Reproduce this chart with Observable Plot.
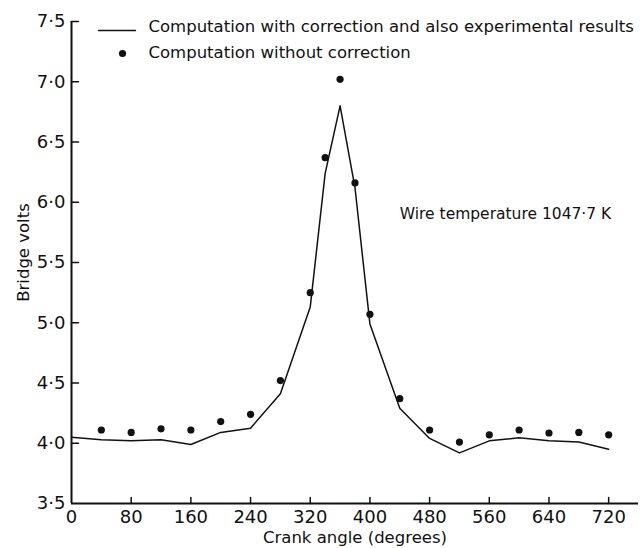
<!DOCTYPE html>
<html>
<head>
<meta charset="utf-8">
<script src="https://cdn.jsdelivr.net/npm/d3@7"></script>
<script src="https://cdn.jsdelivr.net/npm/@observablehq/plot@0.6"></script>
<style>
  html, body { margin: 0; padding: 0; background: #fff; }
</style>
</head>
<body>
<div id="chart"></div>
<script>
// Solid line: computation with correction (and experimental results)
const lineAngles = [0, 40, 80, 120, 160, 200, 240, 280, 320, 340, 360, 380, 400, 440, 480, 520, 560, 600, 640, 680, 720];
const lineVolts  = [4.05, 4.03, 4.02, 4.03, 3.99, 4.09, 4.125, 4.41, 5.13, 6.24, 6.80, 6.12, 4.99, 4.29, 4.04, 3.92, 4.02, 4.045, 4.02, 4.01, 3.95];

// Dots: computation without correction
const dotAngles = [40, 80, 120, 160, 200, 240, 280, 320, 340, 360, 380, 400, 440, 480, 520, 560, 600, 640, 680, 720];
const dotVolts  = [4.11, 4.09, 4.12, 4.11, 4.18, 4.24, 4.52, 5.25, 6.37, 7.02, 6.16, 5.07, 4.37, 4.11, 4.01, 4.07, 4.11, 4.085, 4.09, 4.07];

const xTicks = [0, 80, 160, 240, 320, 400, 480, 560, 640, 720];
const yTicks = [3.5, 4.0, 4.5, 5.0, 5.5, 6.0, 6.5, 7.0, 7.5];
const xDomain = [0, 760];
const yDomain = [3.5, 7.5];

const legendLineLabel = ["Computation with correction and also experimental results"];
const legendDotLabel = ["Computation without correction"];
const annotation = [{angle: 440, volts: 5.9, label: "Wire temperature 1047\u00B77 K"}];
const xLabel = "Crank angle (degrees)";
const yLabel = ["Bridge volts"];

const lineData = lineAngles.map((a, i) => ({angle: a, volts: lineVolts[i]}));
const dotData = dotAngles.map((a, i) => ({angle: a, volts: dotVolts[i]}));
const fmt = d => d.toFixed(1).replace(".", "\u00B7");

const ink = "#111";
// plain stroke (no arrowhead) for ticks and legend swatch
const stroke = {draw(context, l) { context.moveTo(0, 0); context.lineTo(0, -l); }};

const chart = Plot.plot({
  width: 640,
  height: 548,
  marginLeft: 71,
  marginTop: 21,
  marginBottom: 45,
  marginRight: 2,
  style: {fontFamily: "DejaVu Sans", background: "#fff", color: ink},
  x: {domain: xDomain},
  y: {domain: yDomain},
  marks: [
    Plot.axisX({ticks: xTicks, tickSize: 0, tickPadding: 7, fontSize: 18, label: null, tickFormat: d => String(d)}),
    Plot.axisY({ticks: yTicks, tickSize: 0, tickPadding: 6, fontSize: 18, label: null, tickFormat: fmt}),
    Plot.text([xLabel], {frameAnchor: "bottom", dy: 34, fontSize: 16.5, lineAnchor: "middle", fill: ink}),
    Plot.text(yLabel, {frameAnchor: "left", dx: -48, dy: -10, rotate: -90, fontSize: 16.5, lineAnchor: "middle", textAnchor: "middle", fill: ink}),
    // axis lines
    Plot.ruleX([xDomain[0]], {y1: yDomain[0], y2: yDomain[1], stroke: ink, strokeWidth: 2}),
    Plot.ruleY([yDomain[0]], {x1: xDomain[0], x2: xDomain[1], stroke: ink, strokeWidth: 2}),
    // inward ticks
    Plot.vector(xTicks.slice(1), {x: d => d, y: yDomain[0], length: 6, rotate: 0, anchor: "start", shape: stroke, stroke: ink, strokeWidth: 1.5}),
    Plot.vector(yTicks.slice(1), {x: xDomain[0], y: d => d, length: 7, rotate: 90, anchor: "start", shape: stroke, stroke: ink, strokeWidth: 1.5}),
    // data
    Plot.line(lineData, {x: "angle", y: "volts", stroke: ink, strokeWidth: 1.5}),
    Plot.dot(dotData, {x: "angle", y: "volts", r: 3.6, fill: ink, stroke: "none"}),
    // annotation
    Plot.text(annotation, {x: "angle", y: "volts", text: "label", textAnchor: "start", lineAnchor: "middle", fontSize: 15.5, fill: ink}),
    // legend
    Plot.vector([0], {frameAnchor: "top-left", dx: 27, dy: 9, length: 37, rotate: 90, anchor: "start", shape: stroke, stroke: ink, strokeWidth: 1.5}),
    Plot.text(legendLineLabel, {frameAnchor: "top-left", dx: 77, dy: 5, textAnchor: "start", lineAnchor: "middle", fontSize: 16.5, fill: ink}),
    Plot.dot([0], {frameAnchor: "top-left", dx: 51, dy: 32, r: 3.6, fill: ink, stroke: "none"}),
    Plot.text(legendDotLabel, {frameAnchor: "top-left", dx: 77, dy: 31, textAnchor: "start", lineAnchor: "middle", fontSize: 16.5, fill: ink})
  ]
});
document.getElementById("chart").appendChild(chart);
</script>
</body>
</html>
